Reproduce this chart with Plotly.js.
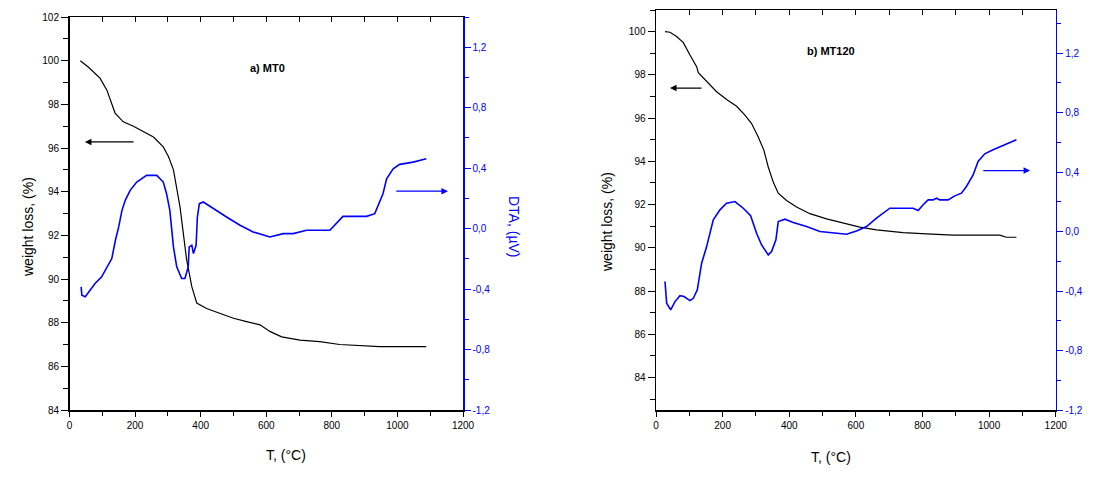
<!DOCTYPE html>
<html><head><meta charset="utf-8">
<script src="https://cdn.plot.ly/plotly-3.0.1.min.js"></script>
<style>html,body{margin:0;padding:0;background:#fff}#c{width:1110px;height:478px}</style>
</head><body><div id="c"></div>
<script>
// Panel a) MT0
const tA_tga = [33,58,93,114,139,164,195,225,256,286,302,317,327,337,347,357,373,388,418,459,500,540,581,611,647,703,763,824,946,1088];
const wA_tga = [100.0,99.7,99.2,98.65,97.6,97.2,97.0,96.75,96.5,96.05,95.6,95.0,94.2,93.3,92.1,90.9,89.65,88.9,88.65,88.43,88.2,88.05,87.9,87.6,87.35,87.2,87.13,87.0,86.9,86.9];
const tA_dta = [35.5,37.6,48,63,78,98,114,129,140,150,160,170,185,205,235,266,286,296,306,317,327,342,352,362,365,373,378,386,390,396,408,438,479,520,560,611,652,682,723,794,804,834,906,931,956,967,987,1007,1048,1088];
const dA_dta = [-0.385,-0.44,-0.451,-0.407,-0.363,-0.319,-0.253,-0.198,-0.077,0.011,0.121,0.187,0.253,0.308,0.352,0.352,0.308,0.231,0.121,-0.121,-0.253,-0.330,-0.330,-0.253,-0.121,-0.110,-0.165,-0.110,0.077,0.165,0.176,0.132,0.077,0.022,-0.022,-0.055,-0.033,-0.033,-0.011,-0.011,0.011,0.081,0.081,0.099,0.231,0.330,0.396,0.425,0.440,0.462];
// Panel b) MT120
const tB_tga = [27,42,62,82,102,122,127,152,182,212,242,267,287,307,324,337,352,367,392,422,462,512,562,612,662,742,812,892,1032,1052,1082];
const wB_tga = [100.0,99.97,99.77,99.49,98.92,98.38,98.1,97.68,97.22,96.86,96.55,96.14,95.75,95.13,94.51,93.74,93.04,92.53,92.19,91.89,91.58,91.34,91.16,90.96,90.83,90.70,90.65,90.59,90.59,90.49,90.49];
const tB_dta = [27,32,44,57,72,84,102,112,124,137,152,172,192,212,237,262,284,302,317,337,347,360,367,387,412,452,492,532,572,602,632,662,702,772,787,802,817,832,842,852,877,897,917,932,952,967,987,1012,1052,1082];
const dB_dta = [-0.336,-0.482,-0.527,-0.471,-0.431,-0.437,-0.464,-0.449,-0.392,-0.213,-0.101,0.079,0.146,0.191,0.202,0.157,0.106,-0.011,-0.090,-0.157,-0.134,-0.056,0.067,0.083,0.061,0.034,0.0,-0.011,-0.018,0.004,0.034,0.090,0.157,0.157,0.141,0.180,0.213,0.213,0.224,0.213,0.213,0.240,0.258,0.303,0.381,0.471,0.523,0.550,0.590,0.617];

const xTicks = [0,200,400,600,800,1000,1200];
const dtaTicks = [-1.2,-0.8,-0.4,0.0,0.4,0.8,1.2];
const dtaTickText = ['-1,2','-0,8','-0,4','0,0','0,4','0,8','1,2'];

const F = 'Liberation Sans, Arial, sans-serif';
const BLUE = '#0000ff';
const W = 1110, H = 478;
const px = v => v / W, py = v => 1 - v / H;

function xax(dom, anchor) {
  return {domain: dom, range: [0,1200], anchor: anchor, tickmode:'array', tickvals: xTicks,
    ticks:'outside', ticklen:5, tickwidth:1, tickcolor:'#000', showline:true, linecolor:'#000', linewidth:1.5,
    mirror:true, showgrid:false, zeroline:false, tickfont:{family:F, size:10, color:'#000'},
    minor:{dtick:100, tick0:0, ticks:'outside', ticklen:4, tickcolor:'#000', showgrid:false}};
}
function xtop(dom, over, anchor) {
  return {domain: dom, range:[0,1200], overlaying: over, side:'top', anchor: anchor, tickmode:'linear', dtick:100, tick0:0,
    ticks:'inside', ticklen:5, tickcolor:'#000', showticklabels:false, showline:false, showgrid:false, zeroline:false};
}
function yleft(dom, range, anchor) {
  return {domain: dom, range: range, anchor: anchor, tickmode:'linear', dtick:2, tick0:84,
    ticks:'outside', ticklen:7, tickwidth:1, tickcolor:'#000', showline:true, linecolor:'#000', linewidth:1.5,
    showgrid:false, zeroline:false, tickfont:{family:F, size:10, color:'#000'},
    minor:{dtick:1, tick0:84, ticks:'outside', ticklen:5, tickcolor:'#000', showgrid:false}};
}
function yright(over, range, anchor, txt) {
  return {overlaying: over, side:'right', range: range, anchor: anchor, tickmode:'array', tickvals: dtaTicks, ticktext: txt,
    ticks:'outside', ticklen:6, tickwidth:1, tickcolor:BLUE, showline:true, linecolor:BLUE, linewidth:1.5,
    showgrid:false, zeroline:false, tickfont:{family:F, size:10, color:BLUE},
    minor:{dtick:0.2, tick0:0, ticks:'outside', ticklen:4, tickcolor:BLUE, showgrid:false}};
}

const domAx = [px(69.5), px(463)], domAy = [py(410), py(17)];
const domBx = [px(656), px(1055.7)], domBy = [py(410), py(10)];

const traces = [
  {x: tA_tga, y: wA_tga, xaxis:'x', yaxis:'y', mode:'lines', line:{color:'#000', width:1.2}, hoverinfo:'skip'},
  {x: tA_dta, y: dA_dta, xaxis:'x', yaxis:'y2', mode:'lines', line:{color:BLUE, width:1.6}, hoverinfo:'skip'},
  {x: tB_tga, y: wB_tga, xaxis:'x2', yaxis:'y3', mode:'lines', line:{color:'#000', width:1.2}, hoverinfo:'skip'},
  {x: tB_dta, y: dB_dta, xaxis:'x2', yaxis:'y4', mode:'lines', line:{color:BLUE, width:1.6}, hoverinfo:'skip'},
  // carriers for the inward top tick axes (no visible mark)
  {x: [null], y: [null], xaxis:'x3', yaxis:'y', mode:'lines', hoverinfo:'skip'},
  {x: [null], y: [null], xaxis:'x4', yaxis:'y3', mode:'lines', hoverinfo:'skip'}
];

const ann = [
  {xref:'paper', yref:'paper', x:px(248), y:py(60), text:'<b>a) MT0</b>', showarrow:false, font:{family:F, size:11, color:'#000'}},
  {xref:'paper', yref:'paper', x:px(857), y:py(43), text:'<b>b) MT120</b>', showarrow:false, font:{family:F, size:11, color:'#000'}},
  {xref:'paper', yref:'paper', x:px(18), y:py(227), text:'weight loss, (%)', textangle:-90, showarrow:false, font:{family:F, size:14, color:'#000'}},
  {xref:'paper', yref:'paper', x:px(607), y:py(222), text:'weight loss, (%)', textangle:-90, showarrow:false, font:{family:F, size:14, color:'#000'}},
  {xref:'paper', yref:'paper', x:px(514), y:py(226), text:'DTA, (µV)', textangle:90, showarrow:false, font:{family:F, size:14, color:BLUE}},
  {xref:'paper', yref:'paper', x:px(264), y:py(465), text:'T, (°C)', showarrow:false, font:{family:F, size:14, color:'#000'}},
  {xref:'paper', yref:'paper', x:px(853), y:py(467), text:'T, (°C)', showarrow:false, font:{family:F, size:14, color:'#000'}},
  // arrows
  {xref:'x', yref:'y', axref:'x', ayref:'y', x:47, y:96.28, ax:200, ay:96.28, text:'', showarrow:true, arrowhead:2, arrowsize:1, arrowwidth:1.3, arrowcolor:'#000'},
  {xref:'x', yref:'y2', axref:'x', ayref:'y2', x:1154, y:0.248, ax:992, ay:0.248, text:'', showarrow:true, arrowhead:2, arrowsize:1, arrowwidth:1.3, arrowcolor:BLUE},
  {xref:'x2', yref:'y3', axref:'x2', ayref:'y3', x:42, y:97.39, ax:141, ay:97.39, text:'', showarrow:true, arrowhead:2, arrowsize:1, arrowwidth:1.3, arrowcolor:'#000'},
  {xref:'x2', yref:'y4', axref:'x2', ayref:'y4', x:1123, y:0.41, ax:978, ay:0.41, text:'', showarrow:true, arrowhead:2, arrowsize:1, arrowwidth:1.3, arrowcolor:BLUE}
];

const layout = {
  width: W, height: H, margin:{l:0, r:0, t:0, b:0}, paper_bgcolor:'#fff', plot_bgcolor:'#fff', showlegend:false,
  xaxis: xax(domAx, 'y'),
  yaxis: yleft(domAy, [84,102], 'x'),
  yaxis2: yright('y', [-1.2,1.4], 'x', dtaTickText),
  xaxis2: xax(domBx, 'y3'),
  yaxis3: yleft(domBy, [82.5,101], 'x2'),
  yaxis4: yright('y3', [-1.2,1.49], 'x2', dtaTickText),
  xaxis3: xtop(domAx, 'x', 'y'),
  xaxis4: xtop(domBx, 'x2', 'y3'),
  annotations: ann
};

Plotly.newPlot('c', traces, layout, {staticPlot:true, displayModeBar:false});
</script></body></html>
